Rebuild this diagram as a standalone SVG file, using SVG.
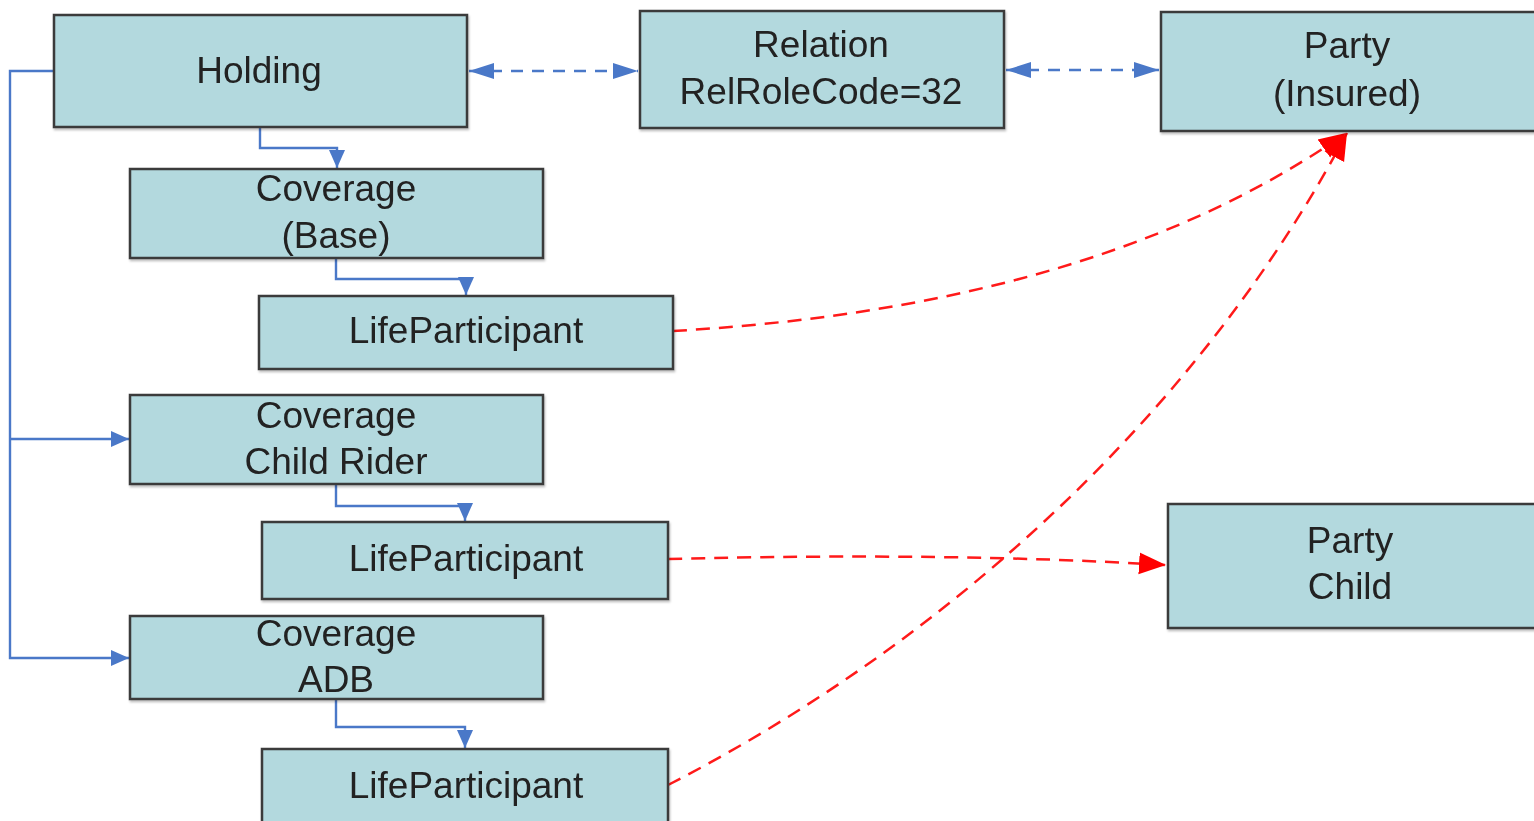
<svg xmlns="http://www.w3.org/2000/svg" width="1534" height="821" viewBox="0 0 1534 821">
  <style>
    .box { fill: #b3d9de; stroke: #3a3a3a; stroke-width: 2.5; }
    .lbl { font-family: "Liberation Sans", Arial, sans-serif; font-size: 37px; fill: #222; text-anchor: middle; }
    .tree { fill: none; stroke: #4a78c8; stroke-width: 2.4; }
    .link { fill: none; stroke: #4a78c8; stroke-width: 2.5; stroke-dasharray: 12 9; }
    .ref { fill: none; stroke: #ff1a1a; stroke-width: 2.5; stroke-dasharray: 14 9; }
  </style>
  <defs>
    <marker id="treeArrow" markerUnits="userSpaceOnUse" markerWidth="19" markerHeight="18" refX="18" refY="9" orient="auto">
      <path d="M0,1 L18,9 L0,17 Z" fill="#4a78c8"/>
    </marker>
    <marker id="linkArrow" markerUnits="userSpaceOnUse" markerWidth="26" markerHeight="18" refX="25" refY="9" orient="auto-start-reverse">
      <path d="M0,1 L25,9 L0,17 Z" fill="#4a78c8"/>
    </marker>
    <marker id="redArrow" markerUnits="userSpaceOnUse" markerWidth="28" markerHeight="24" refX="27" refY="12" orient="auto">
      <path d="M0,1 L27,12 L0,23 Z" fill="#ff0000"/>
    </marker>
    <filter id="shadow" x="-5%" y="-5%" width="110%" height="115%">
      <feDropShadow dx="1" dy="2" stdDeviation="1" flood-color="#000" flood-opacity="0.25"/>
    </filter>
  </defs>

  <!-- connectors -->
  <g id="connectors">
    <!-- containment tree -->
    <path class="tree" d="M54,71 H10 V658 H129" marker-end="url(#treeArrow)"/>
    <path class="tree" d="M10,439 H129" marker-end="url(#treeArrow)"/>
    <path class="tree" d="M260,127 V148 H337 V168" marker-end="url(#treeArrow)"/>
    <path class="tree" d="M336,258 V279 H466 V295" marker-end="url(#treeArrow)"/>
    <path class="tree" d="M336,484 V506 H465 V521" marker-end="url(#treeArrow)"/>
    <path class="tree" d="M336,699 V727 H465 V748" marker-end="url(#treeArrow)"/>
    <!-- relation links -->
    <path class="link" d="M469,71 H638" marker-start="url(#linkArrow)" marker-end="url(#linkArrow)"/>
    <path class="link" d="M1006,70 H1159" marker-start="url(#linkArrow)" marker-end="url(#linkArrow)"/>
    <!-- participant references -->
    <path class="ref" d="M673,331 C900,318 1150,270 1346,133" marker-end="url(#redArrow)"/>
    <path class="ref" d="M668,559 Q950,552 1166,565" marker-end="url(#redArrow)"/>
    <path class="ref" d="M668,785 C950,640 1200,410 1347,133" marker-end="url(#redArrow)"/>
  </g>

  <g id="holding" filter="url(#shadow)">
    <rect class="box" x="54" y="15" width="413" height="112"/>
    <text class="lbl" x="259" y="83">Holding</text>
  </g>
  <g id="relation" filter="url(#shadow)">
    <rect class="box" x="640" y="11" width="364" height="117"/>
    <text class="lbl" x="821" y="57">Relation</text>
    <text class="lbl" x="821" y="104">RelRoleCode=32</text>
  </g>
  <g id="party-insured" filter="url(#shadow)">
    <rect class="box" x="1161" y="12" width="380" height="119"/>
    <text class="lbl" x="1347" y="58">Party</text>
    <text class="lbl" x="1347" y="106">(Insured)</text>
  </g>
  <g id="coverage-base" filter="url(#shadow)">
    <rect class="box" x="130" y="169" width="413" height="89"/>
    <text class="lbl" x="336" y="201">Coverage</text>
    <text class="lbl" x="336" y="248">(Base)</text>
  </g>
  <g id="lifeparticipant-base" filter="url(#shadow)">
    <rect class="box" x="259" y="296" width="414" height="73"/>
    <text class="lbl" x="466" y="343">LifeParticipant</text>
  </g>
  <g id="coverage-child-rider" filter="url(#shadow)">
    <rect class="box" x="130" y="395" width="413" height="89"/>
    <text class="lbl" x="336" y="428">Coverage</text>
    <text class="lbl" x="336" y="474">Child Rider</text>
  </g>
  <g id="lifeparticipant-child" filter="url(#shadow)">
    <rect class="box" x="262" y="522" width="406" height="77"/>
    <text class="lbl" x="466" y="571">LifeParticipant</text>
  </g>
  <g id="coverage-adb" filter="url(#shadow)">
    <rect class="box" x="130" y="616" width="413" height="83"/>
    <text class="lbl" x="336" y="646">Coverage</text>
    <text class="lbl" x="336" y="692">ADB</text>
  </g>
  <g id="lifeparticipant-adb" filter="url(#shadow)">
    <rect class="box" x="262" y="749" width="406" height="90"/>
    <text class="lbl" x="466" y="798">LifeParticipant</text>
  </g>
  <g id="party-child" filter="url(#shadow)">
    <rect class="box" x="1168" y="504" width="380" height="124"/>
    <text class="lbl" x="1350" y="553">Party</text>
    <text class="lbl" x="1350" y="599">Child</text>
  </g>
</svg>
